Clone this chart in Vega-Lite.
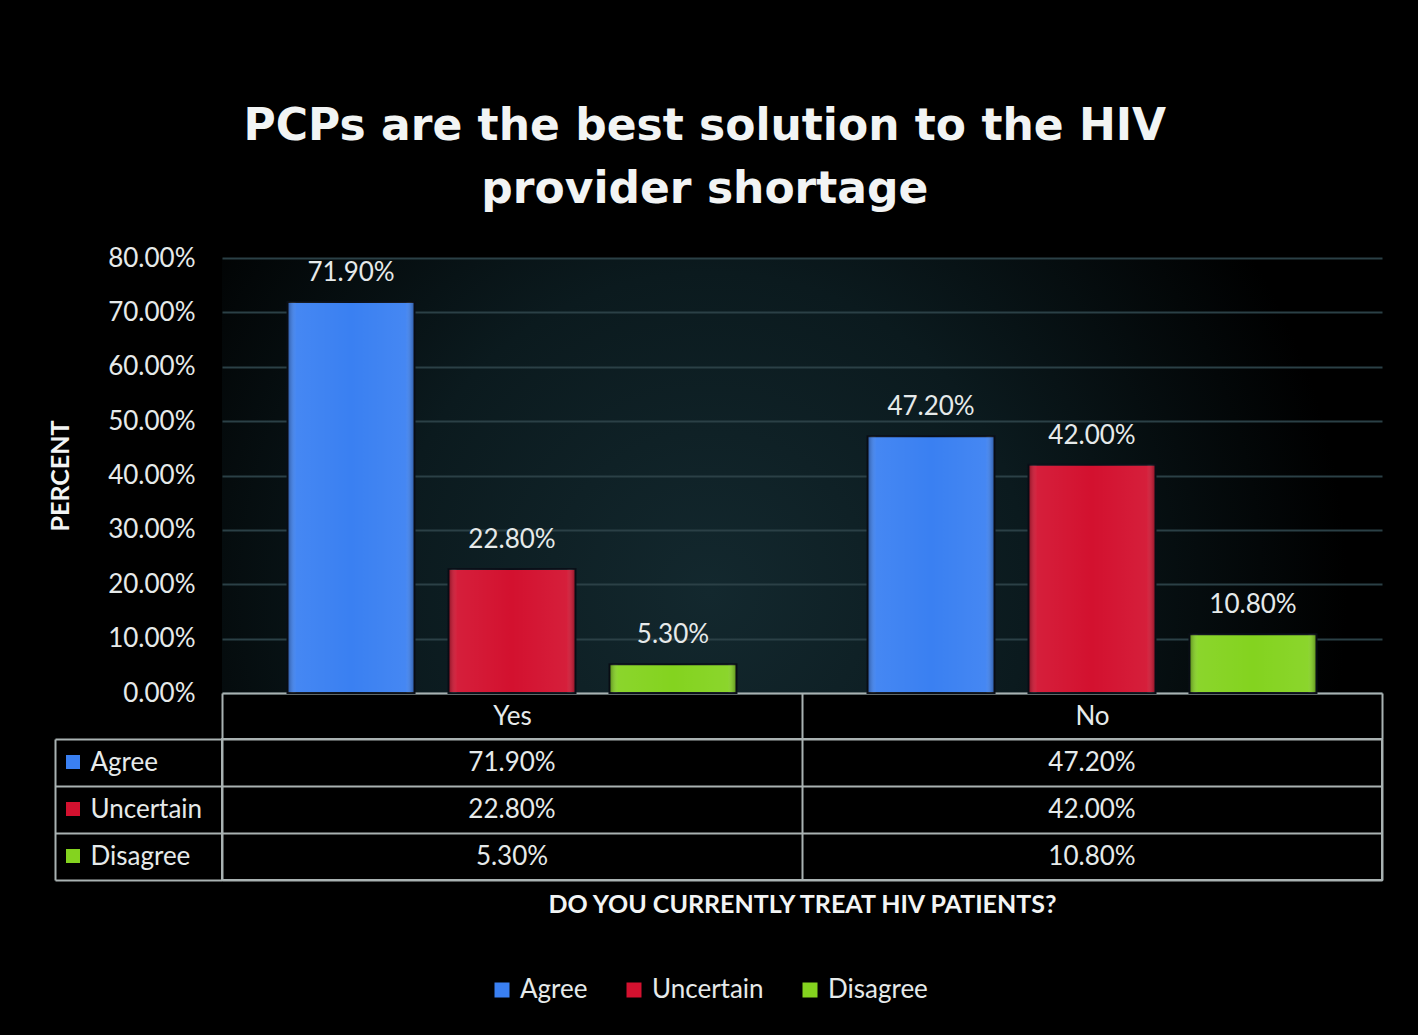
{
  "$schema": "https://vega.github.io/schema/vega-lite/v6.json",
  "background": "#000000",
  "padding": {"left": 48, "top": 105, "right": 40, "bottom": 32},
  "config": {
    "font": "Lato",
    "axis": {"labelFont": "Lato", "titleFont": "Lato"},
    "legend": {"labelFont": "Lato"}
  },
  "title": {
    "text": ["PCPs are the best solution to the HIV", "provider shortage"],
    "font": "DejaVu Sans",
    "fontSize": 44,
    "fontWeight": "bold",
    "color": "#f2f4f4",
    "lineHeight": 63,
    "anchor": "middle",
    "offset": 33,
    "dx": -11
  },
  "data": {
    "values": [
      {"group": "Yes", "response": "Agree", "value": 0.719},
      {"group": "Yes", "response": "Uncertain", "value": 0.228},
      {"group": "Yes", "response": "Disagree", "value": 0.053},
      {"group": "No", "response": "Agree", "value": 0.472},
      {"group": "No", "response": "Uncertain", "value": 0.42},
      {"group": "No", "response": "Disagree", "value": 0.108}
    ]
  },
  "spacing": 46,
  "bounds": "flush",
  "resolve": {"legend": {"color": "independent"}},
  "vconcat": [
    {
      "width": 1160,
      "height": 435,
      "view": {
        "stroke": null,
        "fill": {
          "gradient": "radial",
          "x1": 0.42, "y1": 0.6, "x2": 0.42, "y2": 0.6,
          "r1": 0, "r2": 0.55,
          "stops": [
            {"offset": 0, "color": "#13282e"},
            {"offset": 0.5, "color": "#0b1a1e"},
            {"offset": 1, "color": "#000000"}
          ]
        }
      },
      "encoding": {
        "x": {
          "field": "group", "type": "nominal", "sort": ["Yes", "No"],
          "scale": {"paddingInner": 0, "paddingOuter": 0},
          "axis": {
            "title": null, "orient": "bottom",
            "domainColor": "#a9b2b2", "domainWidth": 2,
            "ticks": true, "tickBand": "extent", "tickSize": 46, "tickColor": "#a9b2b2", "tickWidth": 2,
            "labelAngle": 0, "labelBaseline": "middle", "labelPadding": -23,
            "labelFontSize": 26, "labelColor": "#e6eaea", "grid": false
          }
        },
        "xOffset": {
          "field": "response", "type": "nominal", "sort": ["Agree", "Uncertain", "Disagree"],
          "scale": {"paddingInner": 0.211, "paddingOuter": 0.407}
        },
        "y": {
          "field": "value", "type": "quantitative",
          "scale": {"domain": [0, 0.8], "nice": false},
          "axis": {
            "values": [0, 0.1, 0.2, 0.3, 0.4, 0.5, 0.6, 0.7, 0.8],
            "format": ".2%", "grid": true, "gridColor": "#2b4046", "gridWidth": 2,
            "domain": false, "ticks": false, "labelPadding": 27,
            "labelFontSize": 26, "labelColor": "#e6eaea",
            "title": "PERCENT", "titleFontSize": 25, "titleFontWeight": "bold",
            "titleColor": "#f2f4f4", "titlePadding": 34
          }
        }
      },
      "layer": [
        {
          "mark": {"type": "bar", "stroke": "#0a0f18", "strokeWidth": 2},
          "encoding": {
            "color": {
              "field": "response", "type": "nominal",
              "sort": ["Agree", "Uncertain", "Disagree"],
              "scale": {"domain": ["Agree", "Uncertain", "Disagree"], "range": ["#3a80f2", "#d3112f", "#84d31f"]},
              "legend": {
                "orient": "none", "legendX": 267, "legendY": 719,
                "direction": "horizontal", "title": null,
                "symbolType": "square", "symbolSize": 225, "symbolStrokeWidth": 0,
                "labelFontSize": 26, "labelColor": "#e6eaea",
                "columnPadding": 33, "labelOffset": 5, "padding": 0
              }
            }
          }
        },
        {
          "mark": {
            "type": "bar",
            "fill": {
              "gradient": "linear", "x1": 0, "y1": 0, "x2": 1, "y2": 0,
              "stops": [
                {"offset": 0, "color": "rgba(0,0,0,0.35)"},
                {"offset": 0.07, "color": "rgba(255,255,255,0.06)"},
                {"offset": 0.5, "color": "rgba(255,255,255,0)"},
                {"offset": 0.93, "color": "rgba(255,255,255,0.06)"},
                {"offset": 1, "color": "rgba(0,0,0,0.35)"}
              ]
            }
          },
          "encoding": {}
        },
        {
          "mark": {"type": "text", "baseline": "bottom", "dy": -16, "fontSize": 26, "color": "#e6eaea"},
          "encoding": {
            "text": {"field": "value", "type": "quantitative", "format": ".2%"}
          }
        }
      ]
    },
    {
      "width": 1160,
      "height": 141,
      "view": {"stroke": "#a9b2b2", "strokeWidth": 2},
      "encoding": {
        "x": {
          "field": "group", "type": "nominal", "sort": ["Yes", "No"],
          "axis": {
            "orient": "bottom", "labels": false, "ticks": false, "domain": false,
            "grid": true, "tickBand": "extent", "gridColor": "#a9b2b2", "gridWidth": 2,
            "title": "DO YOU CURRENTLY TREAT HIV PATIENTS?", "titleFontSize": 25,
            "titleFontWeight": "bold", "titleColor": "#f2f4f4", "titlePadding": 12
          }
        },
        "y": {
          "field": "response", "type": "nominal", "sort": ["Agree", "Uncertain", "Disagree"],
          "axis": {
            "title": null, "offset": 167,
            "domain": true, "domainColor": "#a9b2b2", "domainWidth": 2,
            "ticks": true, "tickBand": "extent", "tickSize": -167, "tickColor": "#a9b2b2", "tickWidth": 2,
            "grid": true, "gridColor": "#a9b2b2", "gridWidth": 2,
            "labelAlign": "left", "labelPadding": 132, "labelFontSize": 26, "labelColor": "#e6eaea"
          }
        }
      },
      "layer": [
        {
          "mark": {"type": "text", "fontSize": 26, "color": "#e6eaea", "baseline": "middle"},
          "encoding": {
            "text": {"field": "value", "type": "quantitative", "format": ".2%"}
          }
        },
        {
          "mark": {"type": "square", "opacity": 0},
          "encoding": {
            "color": {
              "field": "response", "type": "nominal",
              "sort": ["Agree", "Uncertain", "Disagree"],
              "legend": {
                "orient": "none", "legendX": -156, "legendY": 16,
                "direction": "vertical", "title": null,
                "symbolType": "square", "symbolSize": 196, "symbolStrokeWidth": 0,
                "labelExpr": "''", "rowPadding": 33, "padding": 0
              }
            }
          }
        }
      ]
    }
  ]
}
